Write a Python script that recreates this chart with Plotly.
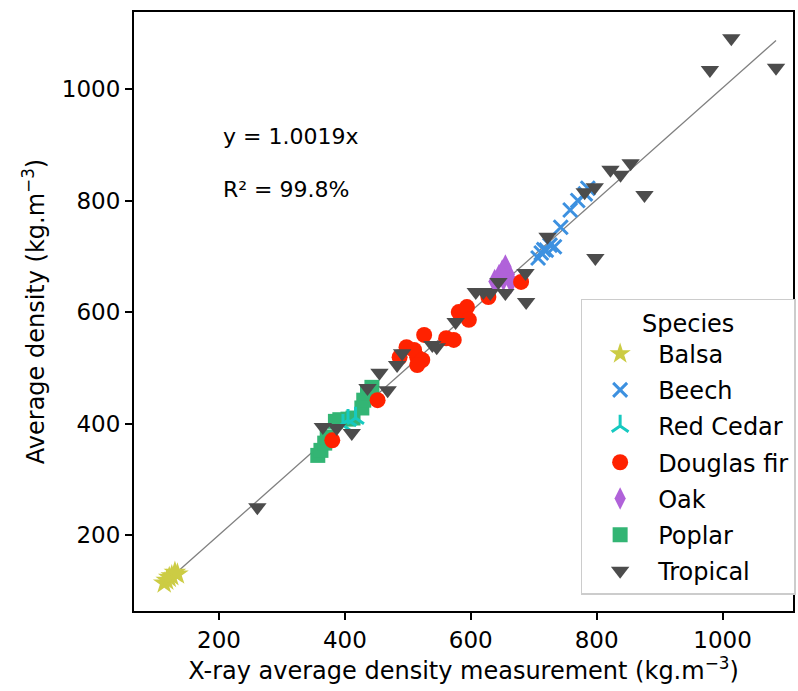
import numpy as np
import plotly.graph_objects as go

# ---- data ----
balsa_x = [113, 117, 121, 125, 130, 134]
balsa_y = [114, 119, 124, 127, 133, 130]

beech_x = [707, 712, 716, 720, 726, 733, 743, 758, 770, 782, 786]
beech_y = [697, 706, 712, 711, 720, 717, 752, 783, 800, 812, 822]

cedar_x = [397, 405, 417]
cedar_y = [397, 406, 410]

douglas_x = [380, 452, 498, 487, 515, 510, 523, 515, 526, 561, 573, 581, 594, 597, 628, 680]
douglas_y = [370, 442, 537, 519, 519, 532, 514, 505, 559, 553, 550, 600, 609, 586, 627, 654]

oak_x = [638, 645, 650, 655, 660, 664, 652]
oak_y = [655, 664, 672, 681, 668, 655, 660]

poplar_x = [357, 362, 368, 372, 385, 392, 405, 413, 427, 430, 436, 443]
poplar_y = [343, 352, 365, 376, 404, 407, 408, 410, 428, 442, 455, 465]

tropical_x = [261, 365, 387, 411, 436, 468, 455, 483, 491, 539, 546, 576, 608, 620, 631,
              644, 655, 687, 688, 722, 798, 781, 797, 822, 838, 854, 876, 1014, 980, 1085]
tropical_y = [250, 394, 392, 383, 464, 460, 491, 505, 526, 541, 537, 582, 636, 636, 634,
              654, 634, 670, 618, 735, 697, 815, 824, 855, 846, 867, 810, 1091, 1034, 1038]

slope = 1.0019
x_ticks = [200, 400, 600, 800, 1000]
y_ticks = [200, 400, 600, 800, 1000]

# ---- figure ----
all_x = balsa_x + beech_x + cedar_x + douglas_x + oak_x + poplar_x + tropical_x
lx = np.array([min(all_x), max(all_x)], dtype=float)

fig = go.Figure()
fig.add_trace(go.Scatter(x=lx, y=slope * lx, mode="lines",
                         line=dict(color="#808080", width=1.3), showlegend=False,
                         hoverinfo="skip"))

def add(name, xs, ys, symbol, color, size, rank, open_=False):
    if open_:
        marker = dict(symbol=symbol, size=size, color=color, line=dict(color=color, width=3))
    else:
        marker = dict(symbol=symbol, size=size, color=color, line=dict(width=0))
    fig.add_trace(go.Scatter(x=xs, y=ys, mode="markers", name=name, marker=marker,
                             legendrank=rank, legendgroup=name))

add("Poplar", poplar_x, poplar_y, "square", "#33b574", 15, 6)
add("Red Cedar", cedar_x, cedar_y, "y-up-open", "#17c9c0", 14, 3, open_=True)
add("Oak", oak_x, oak_y, "diamond-tall", "#b062d9", 18, 5)
add("Douglas fir", douglas_x, douglas_y, "circle", "#ff2200", 16, 4)
add("Beech", beech_x, beech_y, "x-thin-open", "#3d91e0", 14, 2, open_=True)
add("Balsa", balsa_x, balsa_y, "star", "#cccc44", 17, 1)
add("Tropical", tropical_x, tropical_y, "triangle-down", "#4c4c4c", 16, 7)

fig.add_annotation(x=203, y=914, text="y = 1.0019x", showarrow=False,
                   xanchor="left", yanchor="middle", font=dict(size=22))
fig.add_annotation(x=203, y=819, text="R² = 99.8%", showarrow=False,
                   xanchor="left", yanchor="middle", font=dict(size=22))

axis_common = dict(showgrid=False, zeroline=False, showline=True, linecolor="black",
                   linewidth=2, mirror=True, ticks="outside", ticklen=7, tickwidth=1.5,
                   tickcolor="black", tickfont=dict(size=23))
fig.update_xaxes(range=[65, 1112], tickvals=x_ticks,
                 title=dict(text="X-ray average density measurement (kg.m<sup>−3</sup>)",
                            standoff=8, font=dict(size=24)), **axis_common)
fig.update_yaxes(range=[64, 1138], tickvals=y_ticks,
                 title=dict(text="Average density (kg.m<sup>−3</sup>)", standoff=10,
                            font=dict(size=24)),
                 **axis_common)

fig.update_layout(
    width=798, height=691,
    margin=dict(l=134, r=2, t=12, b=80),
    plot_bgcolor="white", paper_bgcolor="white",
    font=dict(family="DejaVu Sans", size=23, color="black"),
    legend=dict(x=1.004, y=0.027, xanchor="right", yanchor="bottom",
                bgcolor="white", bordercolor="#cccccc", borderwidth=1.5,
                title=dict(text="Species", side="top center", font=dict(size=24)),
                itemwidth=66, tracegroupgap=2, font=dict(size=24)),
)

fig.write_html("out.html", config={"displayModeBar": False},
               post_script="document.body.style.margin='0px';")
